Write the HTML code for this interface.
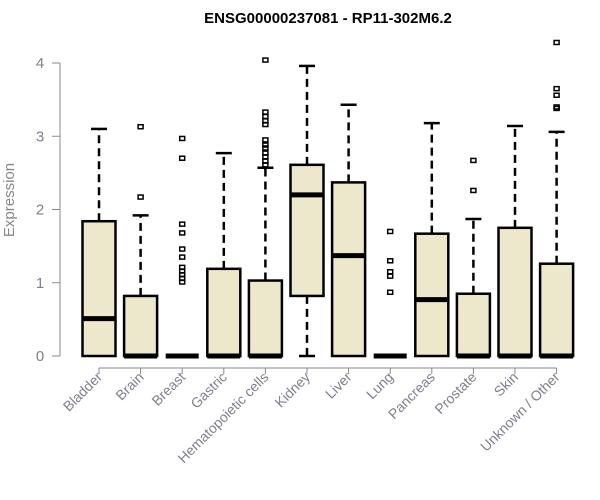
<!DOCTYPE html>
<html><head><meta charset="utf-8"><style>
body{margin:0;background:#fff;}
svg{display:block;font-family:"Liberation Sans",sans-serif;}
</style></head><body>
<svg id="chart" width="600" height="500">
<text x="328" y="23" text-anchor="middle" font-weight="bold" font-size="15">ENSG00000237081 - RP11-302M6.2</text>
<text transform="translate(14,200) rotate(-90)" text-anchor="middle" font-size="15" fill="#888">Expression</text>
<g id="plot"></g>
</svg>
<script>
const categories=["Bladder","Brain","Breast","Gastric","Hematopoietic cells","Kidney","Liver","Lung","Pancreas","Prostate","Skin","Unknown / Other"];
const q1=[0,0,0,0,0,0.82,0,0,0,0,0,0];
const medians=[0.51,0,0,0,0,2.20,1.37,0,0.77,0,0,0];
const q3=[1.84,0.82,0,1.19,1.03,2.61,2.37,0,1.67,0.85,1.75,1.26];
const whiskLow=[0,0,0,0,0,0,0,0,0,0,0,0];
const whiskHigh=[3.10,1.92,0,2.77,2.57,3.96,3.43,0,3.18,1.87,3.14,3.06];
const outliers=[[],[3.13,2.17],[2.97,2.70,1.80,1.68,1.46,1.35,1.21,1.16,1.11,1.06,1.01],[],[4.04,3.33,3.27,3.21,3.16,2.95,2.88,2.84,2.77,2.72,2.66,2.61],[],[],[1.70,1.30,1.15,1.09,0.87],[],[2.67,2.26],[],[4.28,3.65,3.56,3.40,3.38]];
const yTicks=[0,1,2,3,4];
const NS="http://www.w3.org/2000/svg";
const g=document.getElementById("plot");
const y=v=>356-v*73.25;
const x=i=>99+i*41.6;
function mk(t,a){const e=document.createElementNS(NS,t);for(const k in a)e.setAttribute(k,a[k]);g.appendChild(e);return e;}
let ax=mk("line",{x1:60,x2:60,y1:y(0),y2:y(4),stroke:"#888"});


yTicks.forEach(t=>{
  const l=mk("line",{x1:52,x2:60,y1:y(t),y2:y(t),stroke:"#888"});
  
  
  const tx=mk("text",{x:40,y:y(t)+5,"text-anchor":"middle","font-size":"15",fill:"#7f7f8f"});
  tx.textContent=t;
  
  
});
let xa=mk("line",{x1:x(0),x2:x(categories.length-1),y1:368,y2:368,stroke:"#888"});


categories.forEach((c,i)=>{
  const cx=x(i),hw=16.5;
  const t=mk("line",{x1:cx,x2:cx,y1:368,y2:374,stroke:"#888"});
  
  
  const lb=mk("text",{transform:`translate(${cx+4},${378}) rotate(-45)`,"text-anchor":"end","font-size":"14",fill:"#7f7f8f"});
  lb.textContent=c;
  
  
  if(whiskHigh[i]>q3[i]){
    const w=mk("line",{x1:cx,x2:cx,y1:y(q3[i]),y2:y(whiskHigh[i]),stroke:"#000","stroke-width":2.5,"stroke-dasharray":"8,5"});
    
    
    const cap=mk("line",{x1:cx-8,x2:cx+8,y1:y(whiskHigh[i]),y2:y(whiskHigh[i]),stroke:"#000","stroke-width":2.5});
    
    
  }
  if(q1[i]>whiskLow[i]){
    const w=mk("line",{x1:cx,x2:cx,y1:y(q1[i]),y2:y(whiskLow[i]),stroke:"#000","stroke-width":2.5,"stroke-dasharray":"8,5"});
    
    
    const cap=mk("line",{x1:cx-8,x2:cx+8,y1:y(whiskLow[i]),y2:y(whiskLow[i]),stroke:"#000","stroke-width":2.5});
    
    
  }
  const b=mk("rect",{x:cx-hw,y:y(q3[i]),width:2*hw,height:Math.max(0,y(q1[i])-y(q3[i])),fill:"#ede7cc",stroke:"#000","stroke-width":2.5});
  
  
  const m=mk("line",{x1:cx-hw,x2:cx+hw,y1:y(medians[i]),y2:y(medians[i]),stroke:"#000","stroke-width":5});
  
  
  outliers[i].forEach(v=>{
    const o=mk("rect",{x:cx-2.5,y:y(v)-2,width:5,height:4,fill:"none",stroke:"#000","stroke-width":1.5});
    
    
  });
});
</script>
</body></html>
